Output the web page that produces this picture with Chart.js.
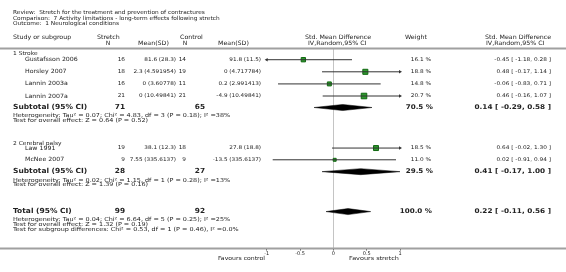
<!DOCTYPE html>
<html>
<head>
<meta charset="utf-8">
<script src="https://cdn.jsdelivr.net/npm/chart.js@4.4.0/dist/chart.umd.min.js"></script>
<style>
  html, body { margin: 0; padding: 0; background: #fff; }
  #wrap { width: 566px; height: 272px; position: relative; }
</style>
</head>
<body>
<div id="wrap"><canvas id="forest"></canvas></div>
<script>
// --- data ---
const titleLines = [
  "Review:  Stretch for the treatment and prevention of contractures",
  "Comparison:  7 Activity limitations - long-term effects following stretch",
  "Outcome:  1 Neurological conditions"
];

const studyNames = ["Gustafsson 2006", "Horsley 2007", "Lannin 2003a", "Lannin 2007a", "Law 1991", "McNee 2007"];
const stretchN = ["16", "18", "16", "21", "19", "9"];
const stretchMean = ["81.6 (28.3)", "2.3 (4.591954)", "0 (3.60778)", "0 (10.49841)", "38.1 (12.3)", "7.55 (335.6137)"];
const controlN = ["14", "19", "11", "21", "18", "9"];
const controlMean = ["91.8 (11.5)", "0 (4.717784)", "0.2 (2.991413)", "-4.9 (10.49841)", "27.8 (18.8)", "-13.5 (335.6137)"];
const smd = [-0.45, 0.48, -0.06, 0.46, 0.64, 0.02];
const ciLow = [-1.18, -0.17, -0.83, -0.16, -0.02, -0.91];
const ciHigh = [0.28, 1.14, 0.71, 1.07, 1.30, 0.94];
const weights = [16.1, 18.8, 14.8, 20.7, 18.5, 11.0];
const studyRows = [0, 1, 2, 3, 7.3, 8.27];

const groupNames = ["1 Stroke", "2 Cerebral palsy"];
const groupHeaderRows = [-0.47, 6.89];
const groupStretchN = [71, 28];
const groupControlN = [65, 27];
const groupSmd = [0.14, 0.41];
const groupLow = [-0.29, -0.17];
const groupHigh = [0.58, 1.00];
const groupWeight = [70.5, 29.5];
const groupRows = [3.95, 9.25];
const groupNotes = [
  ["Heterogeneity: Tau\u00b2 = 0.07; Chi\u00b2 = 4.83, df = 3 (P = 0.18); I\u00b2 =38%", "Test for overall effect: Z = 0.64 (P = 0.52)"],
  ["Heterogeneity: Tau\u00b2 = 0.02; Chi\u00b2 = 1.15, df = 1 (P = 0.28); I\u00b2 =13%", "Test for overall effect: Z = 1.39 (P = 0.16)"]
];

const totalN = [99, 92];
const totalSmd = 0.22;
const totalLow = -0.11;
const totalHigh = 0.56;
const totalWeight = 100.0;
const totalRow = 12.55;
const totalNotes = [
  "Heterogeneity: Tau\u00b2 = 0.04; Chi\u00b2 = 6.64, df = 5 (P = 0.25); I\u00b2 =25%",
  "Test for overall effect: Z = 1.32 (P = 0.19)",
  "Test for subgroup differences: Chi\u00b2 = 0.53, df = 1 (P = 0.46), I\u00b2 =0.0%"
];

const xTicks = [-1, -0.5, 0, 0.5, 1];
const favoursLeft = "Favours control";
const favoursRight = "Favours stretch";

// --- chart ---
const xMin = -1, xMax = 1;
const FONT = '"DejaVu Sans", Verdana, sans-serif';
const TXT = "#222";
const dh = 0.25; // diamond half height in rows

const fmt = v => v.toFixed(2);
const ciText = (m, lo, hi) => `${fmt(m)} [ ${fmt(lo)}, ${fmt(hi)} ]`;

const datasets = [];

// confidence interval lines
studyNames.forEach((name, i) => {
  datasets.push({
    type: "line",
    data: [{ x: Math.max(ciLow[i], xMin), y: studyRows[i] }, { x: Math.min(ciHigh[i], xMax), y: studyRows[i] }],
    borderColor: "#333",
    borderWidth: 1,
    pointRadius: 0,
    showLine: true,
    clip: false,
    order: 1
  });
});

// arrow heads where a CI runs off the scale
const arrowPts = [];
const arrowRot = [];
studyNames.forEach((name, i) => {
  if (ciLow[i] < xMin) { arrowPts.push({ x: xMin, y: studyRows[i] }); arrowRot.push(-90); }
  if (ciHigh[i] > xMax) { arrowPts.push({ x: xMax, y: studyRows[i] }); arrowRot.push(90); }
});
datasets.push({
  type: "scatter",
  data: arrowPts,
  pointStyle: "triangle",
  rotation: arrowRot,
  pointRadius: 2,
  backgroundColor: "#333",
  borderColor: "#333",
  borderWidth: 0,
  clip: false,
  order: 0
});

// study squares
datasets.push({
  type: "scatter",
  data: smd.map((v, i) => ({ x: v, y: studyRows[i] })),
  pointStyle: "rect",
  pointRadius: weights.map(w => w * 0.19),
  backgroundColor: "#2e9a2e",
  borderColor: "#106810",
  borderWidth: 1,
  clip: false,
  order: 2
});

// diamonds for subtotals and total
function diamond(m, lo, hi, row) {
  return [{ x: lo, y: row }, { x: m, y: row - dh }, { x: hi, y: row }, { x: m, y: row + dh }, { x: lo, y: row }];
}
const diamonds = groupSmd.map((m, g) => diamond(m, groupLow[g], groupHigh[g], groupRows[g]));
diamonds.push(diamond(totalSmd, totalLow, totalHigh, totalRow));
diamonds.forEach(d => {
  datasets.push({
    type: "line",
    data: d,
    borderColor: "#000",
    borderWidth: 0.5,
    backgroundColor: "#000",
    fill: "shape",
    pointRadius: 0,
    tension: 0,
    showLine: true,
    clip: false,
    order: 1
  });
});

const forestText = {
  id: "forestText",
  afterDraw(chart) {
    const ctx = chart.ctx;
    const Y = r => chart.scales.y.getPixelForValue(r);
    const area = chart.chartArea;

    // hs: the reference text is a little wider than the font at its height
    function txt(s, x, y, align, size, bold, hs) {
      ctx.save();
      ctx.font = (bold ? "bold " : "") + size + "px " + FONT;
      ctx.fillStyle = TXT;
      ctx.textAlign = align;
      ctx.textBaseline = "middle";
      ctx.translate(x, y);
      ctx.scale(hs || 1, 1);
      ctx.fillText(s, 0, 0);
      ctx.restore();
    }

    ctx.save();
    // header rule and axis rule across the full width
    ctx.strokeStyle = "#a0a0a0";
    ctx.lineWidth = 2;
    ctx.beginPath();
    ctx.moveTo(0, area.top);
    ctx.lineTo(chart.width, area.top);
    ctx.moveTo(0, area.bottom);
    ctx.lineTo(chart.width, area.bottom);
    ctx.stroke();

    // titles
    titleLines.forEach((s, i) => txt(s, 13, 12.7 + i * 5.5, "left", 5.5, false, 1.06));

    // column headers
    txt("Study or subgroup", 13, 37.7, "left", 6, false, 1.05);
    txt("Stretch", 97, 37.7, "left", 6, false, 1.05);
    txt("N", 108, 43.5, "center", 6);
    txt("Mean(SD)", 138, 43.5, "left", 6, false, 1.05);
    txt("Control", 180, 37.7, "left", 6, false, 1.05);
    txt("N", 185, 43.5, "center", 6);
    txt("Mean(SD)", 218, 43.5, "left", 6, false, 1.05);
    txt("Std. Mean Difference", 305, 37.7, "left", 6, false, 1.05);
    txt("IV,Random,95% CI", 308, 43.2, "left", 6, false, 1.05);
    txt("Weight", 405, 37.7, "left", 6, false, 1.05);
    txt("Std. Mean Difference", 485, 37.7, "left", 6, false, 1.05);
    txt("IV,Random,95% CI", 486, 43.2, "left", 6, false, 1.05);

    // studies
    studyNames.forEach((name, i) => {
      const y = Y(studyRows[i]);
      txt(name, 25, y, "left", 5.8, false, 1.08);
      txt(stretchN[i], 125, y, "right", 5.5, false, 1.05);
      txt(stretchMean[i], 176, y, "right", 5.2, false, 1.1);
      txt(controlN[i], 186, y, "right", 5.5, false, 1.05);
      txt(controlMean[i], 261, y, "right", 5.2, false, 1.1);
      txt(weights[i].toFixed(1) + " %", 431, y, "right", 5, false, 1.16);
      txt(ciText(smd[i], ciLow[i], ciHigh[i]), 551, y, "right", 5, false, 1.16);
    });

    // subgroups
    groupNames.forEach((name, g) => {
      txt(name, 13, Y(groupHeaderRows[g]), "left", 5.5, false, 1.08);
      const y = Y(groupRows[g]);
      txt("Subtotal (95% CI)", 13, y, "left", 7, true, 1.07);
      txt(String(groupStretchN[g]), 125, y, "right", 7, true, 1.05);
      txt(String(groupControlN[g]), 205, y, "right", 7, true, 1.05);
      txt(groupWeight[g].toFixed(1) + " %", 433, y, "right", 6.5, true, 1.1);
      txt(ciText(groupSmd[g], groupLow[g], groupHigh[g]), 551, y, "right", 6.5, true, 1.12);
      groupNotes[g].forEach((s, k) => txt(s, 13, y + 8.5 + k * 4.8, "left", 5.5, false, 1.17));
    });

    // total
    const ty = Y(totalRow);
    txt("Total (95% CI)", 13, ty, "left", 7, true, 1.07);
    txt(String(totalN[0]), 125, ty, "right", 7, true, 1.05);
    txt(String(totalN[1]), 205, ty, "right", 7, true, 1.05);
    txt(totalWeight.toFixed(1) + " %", 432, ty, "right", 6.5, true, 1.1);
    txt(ciText(totalSmd, totalLow, totalHigh), 551, ty, "right", 6.5, true, 1.12);
    totalNotes.forEach((s, k) => txt(s, 13, ty + 8.3 + k * 5, "left", 5.5, false, 1.17));

    // favours labels
    txt(favoursLeft, 265, 258.5, "right", 5.5, false, 1.12);
    txt(favoursRight, 349, 259, "left", 5.5, false, 1.18);
    ctx.restore();
  }
};

new Chart(document.getElementById("forest"), {
  type: "scatter",
  data: { datasets },
  options: {
    responsive: true,
    maintainAspectRatio: false,
    devicePixelRatio: 1,
    animation: false,
    layout: { padding: { left: 266.7, right: 166, top: 48.5, bottom: 11.5 } },
    plugins: { legend: { display: false }, tooltip: { enabled: false } },
    scales: {
      x: {
        type: "linear",
        min: xMin,
        max: xMax,
        afterFit: s => { s.height = 12; },
        afterBuildTicks: s => { s.ticks = xTicks.map(v => ({ value: v })); },
        border: { display: false },
        grid: {
          color: c => (c.tick && c.tick.value === 0 ? "#c4c4c4" : "rgba(0,0,0,0)"),
          tickColor: "#555",
          tickLength: 2,
          lineWidth: 1
        },
        ticks: {
          font: { family: FONT, size: 5 },
          color: TXT,
          padding: 0,
          maxRotation: 0,
          autoSkip: false,
          callback: v => String(v)
        }
      },
      y: {
        type: "linear",
        reverse: true,
        min: -0.926,
        max: 15.6,
        display: false
      }
    }
  },
  plugins: [forestText]
});
</script>
</body>
</html>
